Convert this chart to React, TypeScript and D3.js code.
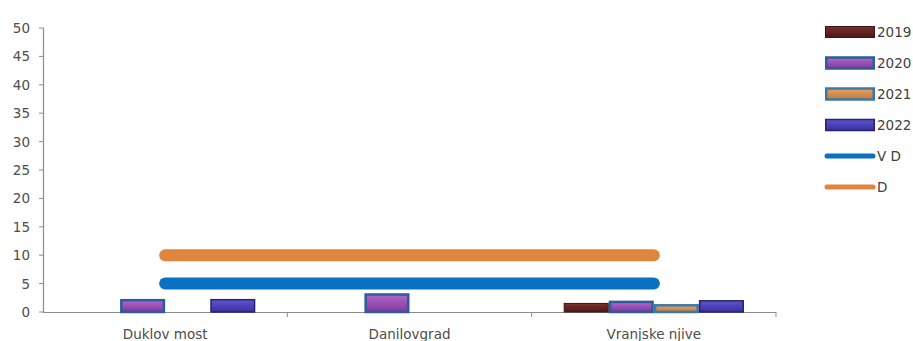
import React from "react";
import * as d3 from "d3";

// Measuring stations and yearly values
const categories = ["Duklov most", "Danilovgrad", "Vranjske njive"];
const years = ["2019", "2020", "2021", "2022"];
const values2019 = [0, 0, 1.6];
const values2020 = [2.3, 3.3, 2.0];
const values2021 = [0, 0, 1.4];
const values2022 = [2.3, 0, 2.1];
// Threshold lines
const limitVD = [5, 5, 5];
const limitD = [10, 10, 10];
const yTicks = [0, 5, 10, 15, 20, 25, 30, 35, 40, 45, 50];

const seriesValues = [values2019, values2020, values2021, values2022];

const barStyles = [
  { top: "#7a2f2f", bottom: "#4e1818", stroke: "#3e1414", sw: 1 },
  { top: "#b466cf", bottom: "#7d3a9a", stroke: "#2a5d9a", sw: 2.5 },
  { top: "#e3a066", bottom: "#c47a3c", stroke: "#3a7aa6", sw: 2.5 },
  { top: "#5f55d0", bottom: "#3a30a0", stroke: "#27236e", sw: 1.5 },
];

const lineSeries = [
  { name: "V D", values: limitVD, color: "#0a70c2" },
  { name: "D", values: limitD, color: "#de8640" },
];

const W = 913;
const H = 341;
const textColor = "#4d4d4d";
const axisColor = "#8c8c8c";
const font = "'DejaVu Sans', sans-serif";

export default function App() {
  const y = d3.scaleLinear().domain([0, 50]).range([312, 28]);
  const x = d3.scaleBand<string>().domain(categories).range([43, 776]).padding(0);
  const bw = x.bandwidth();
  const gap = bw * 0.131;
  const xs = d3.scaleBand<string>().domain(years).range([gap, bw - gap]).padding(0);

  const lineGen = d3
    .line<number>()
    .x((_, i) => (x(categories[i]) as number) + bw / 2)
    .y((v) => y(v));

  const legendItems = [
    ...years.map((yr, i) => ({ label: yr, kind: "bar", idx: i })),
    ...lineSeries.map((l, i) => ({ label: l.name, kind: "line", idx: i })),
  ];

  return (
    <svg
      width={W}
      height={H}
      style={{ position: "absolute", left: 0, top: 0, background: "#fff" }}
      fontFamily={font}
    >
      <defs>
        {barStyles.map((s, i) => (
          <linearGradient key={i} id={`bar${i}`} x1="0" y1="0" x2="0" y2="1">
            <stop offset="0" stopColor={s.top} />
            <stop offset="1" stopColor={s.bottom} />
          </linearGradient>
        ))}
      </defs>

      {/* y axis */}
      <line x1={43.5} x2={43.5} y1={y(50)} y2={y(0)} stroke={axisColor} strokeWidth={1.2} />
      {yTicks.map((t) => (
        <g key={t}>
          <line x1={39} x2={43.5} y1={y(t)} y2={y(t)} stroke={axisColor} />
          <text
            x={30}
            y={y(t)}
            textAnchor="end"
            dominantBaseline="central"
            fontSize={13.5}
            fill={textColor}
          >
            {t}
          </text>
        </g>
      ))}

      {/* x axis */}
      <line x1={43} x2={776} y1={y(0) + 0.5} y2={y(0) + 0.5} stroke={axisColor} strokeWidth={1.2} />
      {categories.map((c) => (
        <line
          key={c}
          x1={(x(c) as number) + bw}
          x2={(x(c) as number) + bw}
          y1={y(0)}
          y2={y(0) + 5}
          stroke={axisColor}
        />
      ))}
      {categories.map((c) => (
        <text
          key={c}
          x={(x(c) as number) + bw / 2}
          y={339}
          textAnchor="middle"
          fontSize={13.5}
          fill={textColor}
        >
          {c}
        </text>
      ))}

      {/* bars */}
      {seriesValues.map((vals, si) =>
        vals.map((v, ci) => {
          if (v <= 0) return null;
          const s = barStyles[si];
          const bx = (x(categories[ci]) as number) + (xs(years[si]) as number);
          const top = y(v);
          return (
            <rect
              key={`${si}-${ci}`}
              x={bx + s.sw / 2}
              y={top + s.sw / 2}
              width={xs.bandwidth() - s.sw}
              height={y(0) - top - s.sw / 2}
              fill={`url(#bar${si})`}
              stroke={s.stroke}
              strokeWidth={s.sw}
            />
          );
        })
      )}

      {/* threshold lines */}
      {lineSeries.map((l) => (
        <path
          key={l.name}
          d={lineGen(l.values) as string}
          fill="none"
          stroke={l.color}
          strokeWidth={12}
          strokeLinecap="round"
        />
      ))}

      {/* legend */}
      {legendItems.map((it, i) => {
        const cy = 32 + i * 31;
        return (
          <g key={it.label}>
            {it.kind === "bar" ? (
              <rect
                x={825 + barStyles[it.idx].sw / 2}
                y={cy - 5.5}
                width={50 - barStyles[it.idx].sw}
                height={11}
                fill={`url(#bar${it.idx})`}
                stroke={barStyles[it.idx].stroke}
                strokeWidth={barStyles[it.idx].sw}
              />
            ) : (
              <line
                x1={827}
                x2={873}
                y1={cy}
                y2={cy}
                stroke={lineSeries[it.idx].color}
                strokeWidth={5}
                strokeLinecap="round"
              />
            )}
            <text x={877} y={cy} dominantBaseline="central" fontSize={13.5} fill="#404040">
              {it.label}
            </text>
          </g>
        );
      })}
    </svg>
  );
}
